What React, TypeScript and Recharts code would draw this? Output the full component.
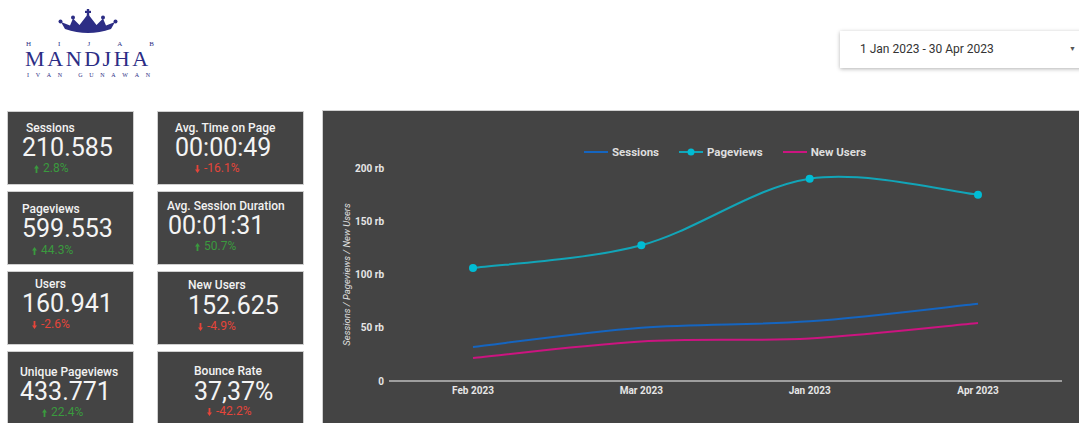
import { LineChart, Line, XAxis, YAxis, Legend, Label } from "recharts";

const months = ["Feb 2023", "Mar 2023", "Jan 2023", "Apr 2023"];
const sessions = [32000, 50000, 56000, 72500];
const pageviews = [106000, 127500, 190000, 175000];
const newUsers = [21600, 37200, 40000, 54400];
const yTicks = [0, 50000, 100000, 150000, 200000];

const kpiTitles = [
  "Sessions",
  "Avg. Time on Page",
  "Pageviews",
  "Avg. Session Duration",
  "Users",
  "New Users",
  "Unique Pageviews",
  "Bounce Rate",
];
const kpiValues = ["210.585", "00:00:49", "599.553", "00:01:31", "160.941", "152.625", "433.771", "37,37%"];
const kpiChanges = [2.8, -16.1, 44.3, 50.7, -2.6, -4.9, 22.4, -42.2];

// [titleX, valueX, changeX, titleCy, valueCy, changeCy] in page pixels
const kpiLayout = [
  [26, 22, 34, 128, 148, 168],
  [175, 175, 195, 128, 148, 168],
  [22, 22, 32, 209, 229, 250],
  [167, 168, 195, 206, 226, 246],
  [35, 22, 32, 284, 304, 324],
  [188, 188, 198, 285, 306, 326],
  [20, 20, 42, 372, 392, 412],
  [194, 194, 207, 371, 392, 411],
];

const chartData = months.map((m, i) => ({
  month: m,
  sessions: sessions[i],
  pageviews: pageviews[i],
  newUsers: newUsers[i],
}));

const NAVY = "#2c2d85";
const GREEN = "#3a9a3e";
const RED = "#e5453a";
const FONT = "Roboto, 'Noto Sans', sans-serif";

// catmull-rom style spline, like the one the dashboard draws
function cardinalCurve(context: any) {
  let pts: [number, number][] = [];
  return {
    areaStart() {},
    areaEnd() {},
    lineStart() {
      pts = [];
    },
    point(x: number, y: number) {
      pts.push([+x, +y]);
    },
    lineEnd() {
      if (!pts.length) return;
      context.moveTo(pts[0][0], pts[0][1]);
      const k = 1 / 6;
      for (let i = 0; i < pts.length - 1; i++) {
        const p0 = pts[i - 1] || pts[i];
        const p1 = pts[i];
        const p2 = pts[i + 1];
        const p3 = pts[i + 2] || pts[i + 1];
        context.bezierCurveTo(
          p1[0] + (p2[0] - p0[0]) * k,
          p1[1] + (p2[1] - p0[1]) * k,
          p2[0] - (p3[0] - p1[0]) * k,
          p2[1] - (p3[1] - p1[1]) * k,
          p2[0],
          p2[1]
        );
      }
    },
  };
}

function Arrow({ up, color }: { up: boolean; color: string }) {
  return (
    <svg width={5} height={8} style={{ marginRight: 4, verticalAlign: "middle" }}>
      {up ? (
        <path d="M2.5 0 L5 3.5 L3.4 3.5 L3.4 8 L1.6 8 L1.6 3.5 L0 3.5 Z" fill={color} />
      ) : (
        <path d="M2.5 8 L5 4.5 L3.4 4.5 L3.4 0 L1.6 0 L1.6 4.5 L0 4.5 Z" fill={color} />
      )}
    </svg>
  );
}

function Cards() {
  const cols = [
    { left: 7, width: 127 },
    { left: 157, width: 147 },
  ];
  const rows = [111, 191, 271, 351];
  return (
    <>
      {kpiTitles.map((t, i) => {
        const c = cols[i % 2];
        const top = rows[Math.floor(i / 2)];
        const [tx, vx, cx, tcy, vcy, ccy] = kpiLayout[i];
        const ch = kpiChanges[i];
        const up = ch >= 0;
        const col = up ? GREEN : RED;
        return (
          <div key={t}>
            <div
              style={{
                position: "absolute",
                left: c.left,
                top,
                width: c.width,
                height: 74,
                background: "#444444",
                boxSizing: "border-box",
                border: "1px solid #cfcfcf",
              }}
            />
            <div
              style={{
                position: "absolute",
                left: tx,
                top: tcy - 7,
                lineHeight: "14px",
                fontSize: 12,
                fontWeight: 500,
                color: "#f2f2f2",
                whiteSpace: "nowrap",
              }}
            >
              {t}
            </div>
            <div
              style={{
                position: "absolute",
                left: vx,
                top: vcy - 14,
                lineHeight: "28px",
                fontSize: 25,
                color: "#f4f4f4",
                whiteSpace: "nowrap",
              }}
            >
              {kpiValues[i]}
            </div>
            <div
              style={{
                position: "absolute",
                left: cx,
                top: ccy - 7,
                lineHeight: "14px",
                fontSize: 12,
                color: col,
                whiteSpace: "nowrap",
              }}
            >
              <Arrow up={up} color={col} />
              {ch.toFixed(1)}%
            </div>
          </div>
        );
      })}
    </>
  );
}

function SpreadText({ text, left, top, width, size }: { text: string; left: number; top: number; width: number; size: number }) {
  return (
    <div
      style={{
        position: "absolute",
        left,
        top,
        width,
        display: "flex",
        justifyContent: "space-between",
        fontFamily: "'Liberation Serif', serif",
        fontSize: size,
        color: NAVY,
        lineHeight: `${size + 1}px`,
      }}
    >
      {text.split("").map((l, i) => (
        <span key={i} style={{ width: l === " " ? size * 0.5 : undefined }}>
          {l === " " ? "" : l}
        </span>
      ))}
    </div>
  );
}

function Logo() {
  return (
    <>
      <svg style={{ position: "absolute", left: 0, top: 0 }} width={180} height={40}>
        <path
          d="M65 29 L61 22 L70 25.5 L73 18.5 L79.5 25 L88 14 L96.5 25 L103 18.5 L106 25.5 L115 22 L111 29 Q88 37 65 29 Z"
          fill={NAVY}
        />
        <circle cx={60.5} cy={21.5} r={2} fill={NAVY} />
        <circle cx={73} cy={17.5} r={2} fill={NAVY} />
        <circle cx={103} cy={17.5} r={2} fill={NAVY} />
        <circle cx={115.5} cy={21.5} r={2} fill={NAVY} />
        <rect x={86.8} y={9} width={2.4} height={7} fill={NAVY} />
        <rect x={85} y={10.8} width={6} height={2.2} fill={NAVY} />
      </svg>
      <SpreadText text="HIJAB" left={26} top={40} width={128} size={7} />
      <div
        style={{
          position: "absolute",
          left: 25,
          top: 46,
          fontFamily: "'Liberation Serif', serif",
          fontSize: 22,
          letterSpacing: 2.6,
          color: NAVY,
          lineHeight: "26px",
          whiteSpace: "nowrap",
        }}
      >
        MANDJHA
      </div>
      <SpreadText text="IVAN GUNAWAN" left={27} top={72} width={123} size={6} />
    </>
  );
}

function DatePicker() {
  return (
    <div
      style={{
        position: "absolute",
        left: 840,
        top: 31,
        width: 260,
        height: 37,
        background: "#fff",
        boxShadow: "0 1px 4px rgba(0,0,0,0.3)",
      }}
    >
      <span style={{ position: "absolute", left: 20, top: 11, fontSize: 12, color: "#333", lineHeight: "14px" }}>
        1 Jan 2023 - 30 Apr 2023
      </span>
      <span style={{ position: "absolute", left: 229, top: 13, fontSize: 7, color: "#555", lineHeight: "10px" }}>
        ▼
      </span>
    </div>
  );
}

const legendItems = [
  { label: "Sessions", color: "#1565c0", dot: false },
  { label: "Pageviews", color: "#12a5b8", dot: true },
  { label: "New Users", color: "#cc1480", dot: false },
];

function LegendContent() {
  return (
    <div style={{ display: "flex", alignItems: "center", height: 20, marginLeft: 261 }}>
      {legendItems.map((it) => (
        <div key={it.label} style={{ display: "flex", alignItems: "center", marginRight: 20 }}>
          <svg width={24} height={10} style={{ marginRight: 4 }}>
            <line x1={0} y1={5} x2={24} y2={5} stroke={it.color} strokeWidth={2} />
            {it.dot && <circle cx={12} cy={5} r={3.5} fill="#00bcd4" />}
          </svg>
          <span style={{ fontSize: 11.5, fontWeight: 700, color: "#dedede" }}>{it.label}</span>
        </div>
      ))}
    </div>
  );
}

function YLabel(props: any) {
  const vb = props.viewBox;
  const x = vb.x + 23;
  const y = vb.y + vb.height / 2;
  return (
    <text
      x={x}
      y={y}
      transform={`rotate(-90 ${x} ${y})`}
      textAnchor="middle"
      dominantBaseline="central"
      fontSize={9.5}
      fontStyle="italic"
      fontFamily={FONT}
      fill="#e0e0e0"
    >
      Sessions / Pageviews / New Users
    </text>
  );
}

export default function App() {
  const tickStyle = { fontSize: 10, fontWeight: 700, fill: "#e6e6e6", fontFamily: FONT };
  return (
    <div
      style={{
        position: "absolute",
        left: 0,
        top: 0,
        width: 1079,
        height: 423,
        overflow: "hidden",
        background: "#fff",
        fontFamily: FONT,
      }}
    >
      <Logo />
      <DatePicker />
      <Cards />
      <div
        style={{
          position: "absolute",
          left: 322,
          top: 110,
          width: 757,
          height: 313,
          background: "#444444",
          borderTop: "1px solid #d0d0d0",
          borderLeft: "1px solid #d0d0d0",
        }}
      >
        <LineChart width={757} height={313} data={chartData} margin={{ top: 37, right: 18, left: 0, bottom: 0 }}>
          <Legend verticalAlign="top" content={<LegendContent />} wrapperStyle={{ top: 31, left: 0, width: 757, height: 20 }} />
          <XAxis
            dataKey="month"
            height={43}
            padding={{ left: 84, right: 84 }}
            axisLine={{ stroke: "#bdbdbd", strokeWidth: 1.5 }}
            tickLine={false}
            tickSize={0}
            tickMargin={6}
            tick={tickStyle}
          />
          <YAxis
            width={66}
            domain={[0, 200000]}
            ticks={yTicks}
            axisLine={false}
            tickLine={false}
            tickSize={0}
            tickMargin={5}
            tick={tickStyle}
            tickFormatter={(v: number) => (v === 0 ? "0" : `${v / 1000} rb`)}
          >
            <Label content={YLabel} />
          </YAxis>
          <Line
            dataKey="sessions"
            type={cardinalCurve as any}
            stroke="#1565c0"
            strokeWidth={2}
            dot={false}
            isAnimationActive={false}
          />
          <Line
            dataKey="pageviews"
            type={cardinalCurve as any}
            stroke="#12a5b8"
            strokeWidth={2}
            dot={{ r: 4, fill: "#00bcd4", stroke: "none" }}
            isAnimationActive={false}
          />
          <Line
            dataKey="newUsers"
            type={cardinalCurve as any}
            stroke="#cc1480"
            strokeWidth={2}
            dot={false}
            isAnimationActive={false}
          />
        </LineChart>
      </div>
    </div>
  );
}
